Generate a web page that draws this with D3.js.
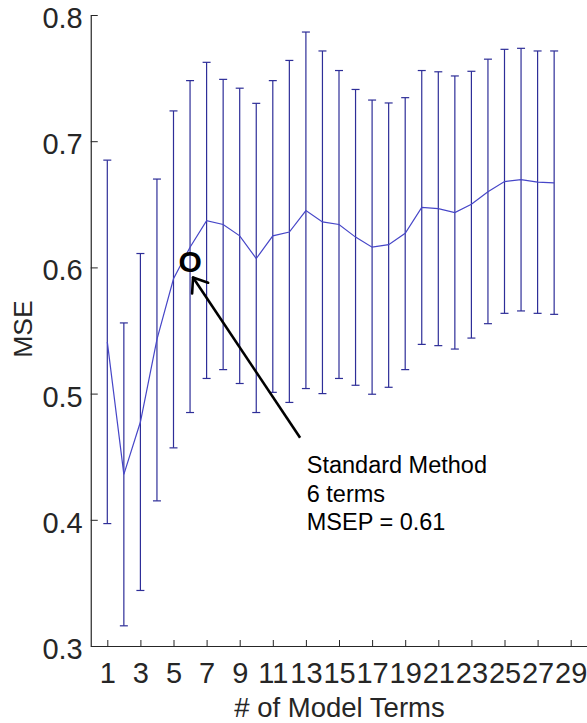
<!DOCTYPE html>
<html>
<head>
<meta charset="utf-8">
<script src="https://cdn.jsdelivr.net/npm/d3@7"></script>
<style>
  html, body { margin: 0; padding: 0; background: #fff; }
  svg { display: block; }
  text { font-family: "Liberation Sans", Arial, Helvetica, sans-serif; }
</style>
</head>
<body>
<div id="chart"></div>
<script>
// ---- data ----
const terms = [1,2,3,4,5,6,7,8,9,10,11,12,13,14,15,16,17,18,19,20,21,22,23,24,25,26,27,28];
const mse   = [0.541,0.436,0.4775,0.543,0.591,0.616,0.637,0.634,0.625,0.607,0.625,0.628,0.645,0.636,0.634,0.624,0.616,0.618,0.627,0.6475,0.6465,0.6435,0.650,0.660,0.668,0.6695,0.6676,0.667];
const upper = [0.685,0.556,0.611,0.670,0.724,0.748,0.7625,0.749,0.742,0.730,0.748,0.764,0.7865,0.7715,0.756,0.741,0.7326,0.7303,0.7345,0.756,0.755,0.7517,0.7554,0.765,0.7728,0.7736,0.7715,0.7715];
const lower = [0.397,0.316,0.344,0.415,0.457,0.485,0.512,0.519,0.508,0.485,0.501,0.493,0.504,0.500,0.512,0.5066,0.4995,0.505,0.519,0.539,0.538,0.5353,0.544,0.5554,0.5636,0.5655,0.5636,0.5628];
const xTicks = [1,3,5,7,9,11,13,15,17,19,21,23,25,27,29];
const yTicks = [0.3,0.4,0.5,0.6,0.7,0.8];
const xLabel = "# of Model Terms";
const yLabel = "MSE";
// annotation (data coordinates)
const markerPoint = [6, 0.605];
const arrowFrom = [12.65, 0.465];
const arrowTo = [6.18, 0.592];
const noteAnchor = [13.05, 0.437];
const noteLines = ["Standard Method", "6 terms", "MSEP = 0.61"];

// ---- layout ----
const W = 587, H = 723;
const svg = d3.select("#chart").append("svg").attr("width", W).attr("height", H);
svg.append("rect").attr("width", W).attr("height", H).attr("fill", "#fff");

const x = d3.scaleLinear().domain([0, 30]).range([90.75, 587.25]);
const y = d3.scaleLinear().domain([0.3, 0.8]).range([646, 15]);
const axisColor = "#262626";

// error bars
const barColor = "#2e2e98";
const lineColor = "#4646c8";
const capHalf = 4;
const eb = svg.append("g");
terms.forEach((t, i) => {
  const g = eb.append("g").attr("stroke", barColor).attr("stroke-width", 1.2).attr("fill", "none");
  g.append("line").attr("x1", x(t)).attr("x2", x(t)).attr("y1", y(lower[i])).attr("y2", y(upper[i]));
  g.append("line").attr("x1", x(t) - capHalf).attr("x2", x(t) + capHalf).attr("y1", y(upper[i])).attr("y2", y(upper[i]));
  g.append("line").attr("x1", x(t) - capHalf).attr("x2", x(t) + capHalf).attr("y1", y(lower[i])).attr("y2", y(lower[i]));
});

// mean line
svg.append("path")
  .datum(terms.map((t, i) => [t, mse[i]]))
  .attr("fill", "none").attr("stroke", lineColor).attr("stroke-width", 1.2)
  .attr("d", d3.line().x(d => x(d[0])).y(d => y(d[1])));

// axes
const xAxis = d3.axisBottom(x).tickValues(xTicks).tickFormat(d3.format("d"))
  .tickSizeInner(-6).tickSizeOuter(0).tickPadding(16.5);
const yAxis = d3.axisLeft(y).tickValues(yTicks).tickFormat(d3.format(".1f"))
  .tickSizeInner(-7).tickSizeOuter(0).tickPadding(8);

const gx = svg.append("g").attr("transform", `translate(0,${y(0.3)})`).call(xAxis);
const gy = svg.append("g").attr("transform", `translate(${x(0)},0)`).call(yAxis);
[gx, gy].forEach(g => {
  g.select(".domain").attr("stroke", axisColor).attr("stroke-width", 1.2);
  g.selectAll(".tick line").attr("stroke", axisColor).attr("stroke-width", 1);
  g.selectAll(".tick text").attr("fill", axisColor).attr("font-size", 29)
    .attr("font-family", '"Liberation Sans", Arial, sans-serif');
});
gy.selectAll(".tick text").attr("dy", "0.43em");

// axis labels
svg.append("text").attr("x", 339.5).attr("y", 716.5).attr("text-anchor", "middle")
  .attr("font-size", 27.5).attr("fill", axisColor).text(xLabel);
svg.append("text").attr("transform", `translate(31.5,329) rotate(-90)`).attr("text-anchor", "middle")
  .attr("font-size", 26.5).attr("fill", axisColor).text(yLabel);

// annotation marker
svg.append("text").attr("x", x(markerPoint[0])).attr("y", y(markerPoint[1]) + 11)
  .attr("text-anchor", "middle").attr("font-size", 30).attr("font-weight", "bold")
  .attr("fill", "#000").text("O");

// arrow
const ax1 = x(arrowFrom[0]), ay1 = y(arrowFrom[1]);
const ax2 = x(arrowTo[0]), ay2 = y(arrowTo[1]);
svg.append("line").attr("x1", ax1).attr("y1", ay1).attr("x2", ax2).attr("y2", ay2)
  .attr("stroke", "#000").attr("stroke-width", 2.6);
const ang = Math.atan2(ay1 - ay2, ax1 - ax2);
const headLen = 16, headAng = 37 * Math.PI / 180;
[ang - headAng, ang + headAng].forEach(a => {
  svg.append("line").attr("x1", ax2).attr("y1", ay2)
    .attr("x2", ax2 + headLen * Math.cos(a)).attr("y2", ay2 + headLen * Math.sin(a))
    .attr("stroke", "#000").attr("stroke-width", 2.6).attr("stroke-linecap", "round");
});

// note text
const note = svg.append("text").attr("x", x(noteAnchor[0])).attr("y", y(noteAnchor[1]))
  .attr("font-size", 23.5).attr("fill", "#000");
noteLines.forEach((s, i) => {
  note.append("tspan").attr("x", x(noteAnchor[0])).attr("dy", i === 0 ? 0 : 28.5).text(s);
});
</script>
</body>
</html>
